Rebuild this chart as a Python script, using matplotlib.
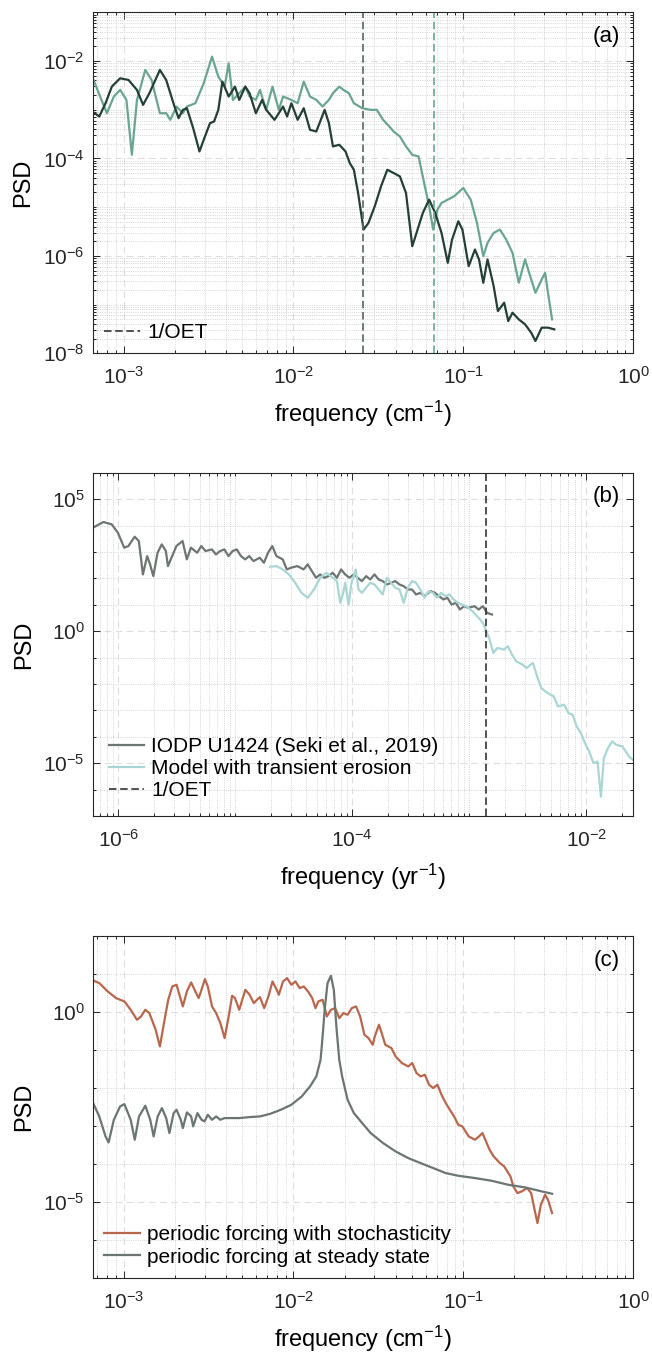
import numpy as np
import matplotlib
matplotlib.use("Agg")
import matplotlib.pyplot as plt
from matplotlib.ticker import FixedLocator, LogLocator, NullFormatter

plt.rcParams['font.family'] = ['Liberation Sans', 'DejaVu Sans']
plt.rcParams['mathtext.fontset'] = 'custom'
plt.rcParams['mathtext.rm'] = 'Liberation Sans'
plt.rcParams['mathtext.it'] = 'Liberation Sans'
plt.rcParams['mathtext.default'] = 'regular'

# ---------------- data (log10 values) ----------------
# panel (a)
a_light_logf = [-3.179, -3.130, -3.098, -3.057, -3.020, -2.983, -2.951, -2.921, -2.872, -2.835,
                -2.786, -2.749, -2.725, -2.688, -2.651, -2.627, -2.577, -2.528, -2.479, -2.442,
                -2.405, -2.381, -2.356, -2.319, -2.283, -2.258, -2.221, -2.197, -2.160, -2.123,
                -2.086, -2.061, -2.012, -1.975, -1.939, -1.902, -1.865, -1.828, -1.791, -1.767,
                -1.730, -1.705, -1.673, -1.644, -1.595, -1.545, -1.509, -1.472, -1.435, -1.410,
                -1.373, -1.337, -1.300, -1.263, -1.226, -1.201, -1.177, -1.152, -1.128, -1.091,
                -1.054, -1.000, -0.956, -0.919, -0.882, -0.857, -0.821, -0.784, -0.747, -0.710,
                -0.673, -0.636, -0.612, -0.575, -0.538, -0.518, -0.501, -0.477]
a_light_logp = [-2.369, -2.799, -3.072, -2.730, -2.594, -2.799, -3.925, -2.799, -2.184, -2.389,
                -3.072, -3.072, -3.208, -2.935, -3.072, -2.935, -2.867, -2.457, -1.911, -2.321,
                -2.526, -2.048, -2.799, -2.662, -2.526, -2.730, -2.799, -2.594, -3.003, -2.526,
                -3.003, -2.730, -2.799, -2.867, -2.423, -2.730, -2.799, -2.935, -2.799, -2.662,
                -2.526, -2.594, -2.662, -2.867, -2.969, -3.003, -3.003, -3.208, -3.345, -3.447,
                -3.549, -3.754, -3.925, -3.959, -4.573, -4.983, -5.461, -5.051, -4.915, -4.846,
                -4.778, -4.608, -4.846, -5.324, -6.007, -5.734, -5.529, -5.461, -5.666, -5.939,
                -6.553, -6.075, -6.348, -6.758, -6.485, -6.348, -6.758, -7.304]

a_dark_logf = [-3.179, -3.143, -3.106, -3.069, -3.020, -2.971, -2.921, -2.885, -2.848, -2.786,
               -2.749, -2.700, -2.676, -2.651, -2.627, -2.590, -2.553, -2.528, -2.491, -2.467,
               -2.442, -2.418, -2.381, -2.344, -2.319, -2.283, -2.258, -2.221, -2.184, -2.160,
               -2.111, -2.061, -2.037, -2.012, -1.975, -1.939, -1.902, -1.865, -1.816, -1.791,
               -1.767, -1.730, -1.693, -1.668, -1.644, -1.619, -1.587, -1.558, -1.521, -1.484,
               -1.447, -1.410, -1.373, -1.337, -1.300, -1.275, -1.238, -1.201, -1.165, -1.128,
               -1.091, -1.066, -1.029, -1.005, -0.968, -0.931, -0.907, -0.882, -0.857, -0.821,
               -0.796, -0.759, -0.735, -0.710, -0.673, -0.636, -0.600, -0.575, -0.538, -0.501,
               -0.464]
a_dark_logp = [-3.051, -3.140, -2.867, -2.526, -2.355, -2.389, -2.594, -2.901, -2.662, -2.184,
               -2.389, -2.935, -3.174, -3.003, -2.969, -3.379, -3.857, -3.618, -3.276, -3.242,
               -3.003, -2.423, -2.730, -2.526, -2.799, -2.526, -2.662, -3.072, -2.799, -3.003,
               -3.208, -2.935, -3.140, -2.867, -3.208, -2.969, -3.413, -3.447, -3.003, -3.276,
               -3.754, -3.720, -3.857, -4.096, -4.232, -4.710, -5.461, -5.324, -4.983, -4.573,
               -4.232, -4.300, -4.369, -4.710, -5.802, -5.529, -5.119, -4.846, -5.119, -5.529,
               -6.143, -5.666, -5.290, -5.461, -6.212, -5.870, -6.075, -6.553, -6.075, -6.621,
               -7.133, -6.962, -7.338, -7.167, -7.304, -7.406, -7.577, -7.747, -7.474, -7.474,
               -7.509]
a_oet = [0.0257, 0.0673]

# panel (b)
b_iodp_logf = [-6.217, -6.128, -6.057, -6.004, -5.950, -5.914, -5.861, -5.825, -5.790, -5.754,
               -5.729, -5.701, -5.665, -5.629, -5.594, -5.576, -5.540, -5.504, -5.451, -5.415,
               -5.380, -5.326, -5.291, -5.255, -5.201, -5.166, -5.130, -5.094, -5.059, -5.023,
               -4.988, -4.952, -4.916, -4.881, -4.845, -4.791, -4.756, -4.720, -4.684, -4.649,
               -4.595, -4.560, -4.524, -4.471, -4.417, -4.381, -4.346, -4.310, -4.275, -4.239,
               -4.203, -4.168, -4.132, -4.096, -4.061, -4.025, -3.989, -3.954, -3.918, -3.882,
               -3.847, -3.811, -3.775, -3.740, -3.704, -3.668, -3.633, -3.597, -3.561, -3.526,
               -3.490, -3.455, -3.419, -3.383, -3.330, -3.294, -3.258, -3.223, -3.187, -3.152,
               -3.116, -3.080, -3.045, -3.009, -2.955, -2.920, -2.884, -2.848, -2.806]
b_iodp_logp = [3.924, 4.139, 4.051, 3.734, 3.165, 3.228, 3.582, 3.418, 2.152, 2.848,
               2.532, 2.089, 2.975, 3.291, 3.038, 2.468, 2.848, 3.228, 3.418, 2.722,
               3.165, 2.975, 3.228, 3.038, 3.101, 2.911, 3.038, 3.101, 2.848, 3.038,
               3.101, 2.848, 2.722, 2.848, 2.658, 2.785, 2.595, 2.975, 3.228, 2.848,
               2.722, 2.342, 2.405, 2.468, 2.342, 2.532, 2.278, 2.025, 2.152, 2.025,
               2.089, 2.215, 2.025, 2.342, 2.152, 2.025, 2.152, 2.025, 1.899, 2.089,
               1.962, 2.152, 1.962, 1.899, 1.772, 1.835, 1.899, 1.772, 1.709, 1.582,
               1.582, 1.392, 1.456, 1.329, 1.519, 1.456, 1.329, 1.203, 1.266, 1.013,
               1.076, 0.823, 0.949, 0.886, 0.949, 0.823, 0.949, 0.696, 0.633]

b_model_logf = [-4.702, -4.649, -4.595, -4.542, -4.488, -4.435, -4.381, -4.328, -4.275, -4.221,
                -4.168, -4.132, -4.103, -4.078, -4.061, -4.032, -4.007, -3.971, -3.947, -3.918,
                -3.882, -3.847, -3.811, -3.775, -3.740, -3.704, -3.668, -3.633, -3.597, -3.561,
                -3.526, -3.490, -3.455, -3.419, -3.383, -3.348, -3.312, -3.276, -3.241, -3.205,
                -3.169, -3.134, -3.098, -3.062, -3.027, -2.973, -2.920, -2.884, -2.856, -2.831,
                -2.795, -2.759, -2.706, -2.670, -2.635, -2.599, -2.545, -2.510, -2.456, -2.421,
                -2.385, -2.332, -2.278, -2.242, -2.189, -2.153, -2.118, -2.082, -2.046, -2.011,
                -1.975, -1.939, -1.904, -1.875, -1.850, -1.815, -1.779, -1.743, -1.690, -1.636,
                -1.601]
b_model_logp = [2.443, 2.468, 2.342, 2.152, 1.835, 1.456, 1.266, 1.582, 2.025, 2.215,
                2.025, 1.899, 1.076, 1.456, 1.835, 1.013, 1.835, 2.342, 1.582, 1.456,
                1.646, 1.835, 1.772, 1.582, 1.392, 2.025, 1.835, 1.646, 1.582, 1.076,
                1.646, 1.899, 1.835, 1.582, 1.266, 1.519, 1.456, 1.266, 1.456, 1.329,
                1.392, 1.203, 1.076, 1.013, 0.949, 0.759, 0.506, 0.316, 0.000, -0.253,
                -0.823, -0.633, -0.696, -0.570, -0.886, -1.139, -1.266, -1.392, -1.203, -1.709,
                -2.152, -2.342, -2.468, -2.848, -2.785, -3.101, -3.165, -3.608, -3.861, -4.241,
                -4.557, -5.000, -4.937, -6.266, -4.810, -4.430, -4.177, -4.304, -4.367, -4.747,
                -4.873]
b_oet = 1.38e-3

# panel (c)
c_stoch_logf = [-3.179, -3.143, -3.093, -3.044, -2.995, -2.958, -2.921, -2.897, -2.872, -2.848,
                -2.811, -2.786, -2.762, -2.737, -2.713, -2.688, -2.651, -2.627, -2.602, -2.577,
                -2.558, -2.541, -2.521, -2.504, -2.479, -2.455, -2.430, -2.405, -2.381, -2.361,
                -2.344, -2.319, -2.283, -2.258, -2.233, -2.214, -2.197, -2.172, -2.147, -2.123,
                -2.098, -2.086, -2.061, -2.037, -2.012, -1.988, -1.963, -1.939, -1.914, -1.889,
                -1.870, -1.853, -1.828, -1.803, -1.779, -1.754, -1.730, -1.705, -1.681, -1.656,
                -1.631, -1.607, -1.582, -1.558, -1.533, -1.521, -1.496, -1.477, -1.459, -1.423,
                -1.398, -1.361, -1.324, -1.300, -1.275, -1.251, -1.226, -1.201, -1.177, -1.152,
                -1.128, -1.103, -1.079, -1.054, -1.029, -1.005, -0.968, -0.931, -0.907, -0.887,
                -0.870, -0.845, -0.821, -0.784, -0.759, -0.722, -0.705, -0.681, -0.656, -0.624,
                -0.600, -0.580, -0.563, -0.543, -0.518, -0.501, -0.477]
c_stoch_logp = [0.833, 0.763, 0.544, 0.368, 0.281, 0.061, -0.202, -0.114, 0.061, -0.026,
                -0.465, -0.904, -0.289, 0.325, 0.675, 0.719, 0.149, 0.544, 0.781, 0.544,
                0.368, 0.588, 0.868, 0.675, 0.149, -0.026, -0.289, -0.684, -0.114, 0.430,
                0.368, 0.061, 0.588, 0.456, 0.237, 0.325, 0.395, 0.105, 0.412, 0.807,
                0.588, 0.456, 0.807, 0.895, 0.719, 0.807, 0.632, 0.675, 0.544, 0.368,
                0.105, 0.281, 0.325, -0.114, 0.061, 0.105, -0.158, -0.026, -0.070, 0.105,
                0.149, -0.114, -0.596, -0.684, -0.860, -0.640, -0.333, -0.596, -0.860, -0.947,
                -1.167, -1.342, -1.430, -1.342, -1.605, -1.693, -1.649, -1.912, -2.000, -1.912,
                -2.175, -2.395, -2.570, -2.746, -2.965, -3.009, -3.272, -3.360, -3.272, -3.184,
                -3.360, -3.623, -3.798, -3.974, -4.061, -4.325, -4.588, -4.763, -4.719, -4.632,
                -4.763, -5.202, -5.553, -5.070, -4.807, -4.939, -5.289]

c_steady_logf = [-3.179, -3.143, -3.106, -3.088, -3.057, -3.020, -2.995, -2.958, -2.934, -2.909,
                 -2.872, -2.843, -2.823, -2.799, -2.774, -2.749, -2.730, -2.705, -2.688, -2.663,
                 -2.651, -2.627, -2.602, -2.590, -2.565, -2.541, -2.523, -2.504, -2.479, -2.455,
                 -2.430, -2.405, -2.381, -2.319, -2.258, -2.197, -2.135, -2.074, -2.012, -1.951,
                 -1.902, -1.865, -1.840, -1.828, -1.816, -1.799, -1.779, -1.762, -1.747, -1.730,
                 -1.713, -1.681, -1.644, -1.595, -1.545, -1.472, -1.398, -1.324, -1.251, -1.177,
                 -1.103, -1.029, -0.931, -0.833, -0.735, -0.636, -0.538, -0.477]
c_steady_logp = [-2.395, -2.746, -3.272, -3.430, -2.833, -2.482, -2.421, -2.833, -3.360, -2.746,
                 -2.465, -2.833, -3.272, -2.746, -2.526, -2.789, -3.184, -2.658, -2.570, -2.833,
                 -3.053, -2.640, -2.746, -3.009, -2.658, -2.833, -2.877, -2.702, -2.833, -2.746,
                 -2.833, -2.789, -2.789, -2.789, -2.763, -2.746, -2.675, -2.570, -2.439, -2.219,
                 -1.956, -1.693, -1.254, -0.640, 0.061, 0.763, 0.956, 0.588, -0.377, -1.254,
                 -1.693, -2.307, -2.658, -2.921, -3.184, -3.447, -3.667, -3.842, -3.974, -4.105,
                 -4.237, -4.307, -4.368, -4.439, -4.544, -4.614, -4.719, -4.781]

# ---------------- styling ----------------
c_light = '#6aa592'
c_dark = '#243f37'
c_gray = '#6e7671'
c_blue = '#a9d6d4'
c_orange = '#b8674d'
c_steady = '#6b7571'
dash = (0, (4.5, 2.2))


def pw(v):
    return 10.0 ** np.asarray(v)


def sup(e):
    return r'$10^{%d}$' % e


def style_axes(ax, xlim, ylim, xmaj, ymaj, ysubs):
    ax.set_xscale('log')
    ax.set_yscale('log')
    ax.set_xlim(*xlim)
    ax.set_ylim(*ylim)
    ax.xaxis.set_major_locator(FixedLocator([10.0 ** e for e in xmaj]))
    ax.set_xticklabels([sup(e) for e in xmaj])
    ax.yaxis.set_major_locator(FixedLocator([10.0 ** e for e in ymaj]))
    ax.set_yticklabels([sup(e) for e in ymaj])
    ax.xaxis.set_minor_locator(LogLocator(base=10, subs=np.arange(1, 10), numticks=100))
    ax.yaxis.set_minor_locator(LogLocator(base=10, subs=ysubs, numticks=100))
    ax.xaxis.set_minor_formatter(NullFormatter())
    ax.yaxis.set_minor_formatter(NullFormatter())
    ax.tick_params(which='both', direction='in', top=True, right=True,
                   labelsize=15, width=0.7, colors='#262626')
    ax.tick_params(which='major', length=5)
    ax.tick_params(axis='x', which='major', pad=9)
    ax.tick_params(axis='y', which='major', pad=6)
    ax.tick_params(which='minor', length=2.5)
    ax.grid(True, which='major', linestyle=(0, (6, 4)), color='#dedede', linewidth=0.8)
    ax.grid(True, which='minor', linestyle=':', color='#c8c8c8', linewidth=0.6)
    ax.set_axisbelow(True)
    for s in ax.spines.values():
        s.set_linewidth(0.8)
        s.set_color('#262626')
    ax.set_ylabel('PSD', fontsize=17, labelpad=6)


fig = plt.figure(figsize=(6.52, 13.64), dpi=100)
ax_a = fig.add_axes([0.1426, 0.741, 0.8284, 0.250])
ax_b = fig.add_axes([0.1426, 0.4018, 0.8284, 0.2515])
ax_c = fig.add_axes([0.1426, 0.063, 0.8284, 0.2507])

leg_kw = dict(loc='lower left', frameon=False, fontsize=15, handlelength=1.7,
              handletextpad=0.35, labelspacing=0.15)

# ---- panel a ----
style_axes(ax_a, (10 ** -3.18, 1), (1e-8, 1e-1), [-3, -2, -1, 0], [-8, -6, -4, -2],
           np.arange(1, 10))
ax_a.plot(pw(a_light_logf), pw(a_light_logp), color=c_light, lw=1.6)
ax_a.plot(pw(a_dark_logf), pw(a_dark_logp), color=c_dark, lw=1.6)
ax_a.axvline(a_oet[0], color='#56665e', lw=1.2, ls=dash)
ax_a.axvline(a_oet[1], color=c_light, lw=1.2, ls=dash)
hl, = ax_a.plot([], [], color='#333333', lw=1.2, ls=dash)
ax_a.legend([hl], ['1/OET'], borderaxespad=0.15, **leg_kw)
ax_a.set_xlabel(r'frequency (cm$^{-1}$)', fontsize=17, labelpad=8)
ax_a.text(0.975, 0.93, '(a)', transform=ax_a.transAxes, ha='right', va='center', fontsize=16)

# ---- panel b ----
style_axes(ax_b, (10 ** -6.217, 10 ** -1.6), (1e-7, 1e6), [-6, -4, -2], [-5, 0, 5], [1.0])
h1, = ax_b.plot(pw(b_iodp_logf), pw(b_iodp_logp), color=c_gray, lw=1.6)
h2, = ax_b.plot(pw(b_model_logf), pw(b_model_logp), color=c_blue, lw=1.6)
ax_b.axvline(b_oet, color='#333333', lw=1.2, ls=dash)
h3, = ax_b.plot([], [], color='#333333', lw=1.2, ls=dash)
ax_b.legend([h1, h2, h3], ['IODP U1424 (Seki et al., 2019)', 'Model with transient erosion', '1/OET'],
            borderaxespad=0.35, **leg_kw)
ax_b.set_xlabel(r'frequency (yr$^{-1}$)', fontsize=17, labelpad=8)
ax_b.text(0.975, 0.93, '(b)', transform=ax_b.transAxes, ha='right', va='center', fontsize=16)

# ---- panel c ----
style_axes(ax_c, (10 ** -3.18, 1), (1e-7, 1e2), [-3, -2, -1, 0], [-5, 0], [1.0])
h4, = ax_c.plot(pw(c_stoch_logf), pw(c_stoch_logp), color=c_orange, lw=1.6)
h5, = ax_c.plot(pw(c_steady_logf), pw(c_steady_logp), color=c_steady, lw=1.6)
ax_c.legend([h4, h5], ['periodic forcing with stochasticity', 'periodic forcing at steady state'],
            borderaxespad=0.15, **leg_kw)
ax_c.set_xlabel(r'frequency (cm$^{-1}$)', fontsize=17, labelpad=8)
ax_c.text(0.975, 0.93, '(c)', transform=ax_c.transAxes, ha='right', va='center', fontsize=16)

fig.savefig('out.png', dpi=100)
